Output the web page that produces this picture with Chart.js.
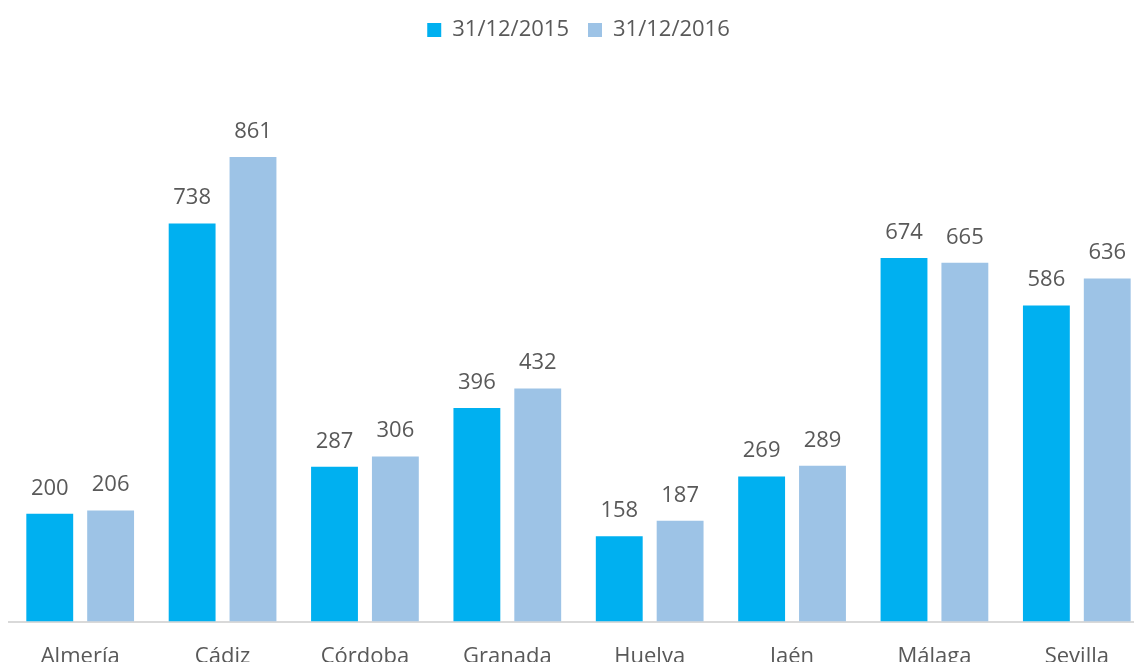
<!DOCTYPE html>
<html>
<head>
<meta charset="utf-8">
<script src="https://cdn.jsdelivr.net/npm/chart.js@4"></script>
<style>
  html, body { margin: 0; padding: 0; background: #fff; overflow: hidden; }
  #wrap { position: relative; width: 1148px; height: 684px; }
</style>
</head>
<body>
<div id="wrap"><canvas id="chart"></canvas></div>
<script>
var provincias = ["Almería", "Cádiz", "Córdoba", "Granada", "Huelva", "Jaén", "Málaga", "Sevilla"];
var serie2015 = [200, 738, 287, 396, 158, 269, 674, 586];
var serie2016 = [206, 861, 306, 432, 187, 289, 665, 636];
var etiquetas = ["31/12/2015", "31/12/2016"];
var colores = ["#00b0f0", "#9dc3e6"];
var fuente = "'Open Sans', sans-serif";

// etiquetas de valor encima de cada barra
var valoresPlugin = {
  id: "valores",
  afterDatasetsDraw: function (chart) {
    var ctx = chart.ctx;
    ctx.save();
    ctx.fillStyle = "#595959";
    ctx.font = "22px " + fuente;
    ctx.textAlign = "center";
    ctx.textBaseline = "alphabetic";
    chart.data.datasets.forEach(function (ds, i) {
      chart.getDatasetMeta(i).data.forEach(function (bar, j) {
        ctx.fillText(ds.data[j], bar.x, bar.y - 19);
      });
    });
    ctx.restore();
  }
};

// mas espacio entre la leyenda y las barras
var huecoLeyenda = {
  id: "huecoLeyenda",
  beforeInit: function (chart) {
    var fit = chart.legend.fit;
    chart.legend.fit = function () {
      fit.call(this);
      this.height += 31;
    };
  }
};

new Chart("chart", {
  type: "bar",
  data: {
    labels: provincias,
    datasets: [
      { label: etiquetas[0], data: serie2015, backgroundColor: colores[0] },
      { label: etiquetas[1], data: serie2016, backgroundColor: colores[1] }
    ]
  },
  options: {
    responsive: true,
    maintainAspectRatio: false,
    animation: false,
    layout: { padding: { left: 9, right: 0, top: 0, bottom: 0 } },
    categoryPercentage: 0.855,
    barPercentage: 0.77,
    plugins: {
      legend: {
        position: "top",
        labels: {
          boxWidth: 14,
          boxHeight: 14,
          color: "#595959",
          font: { size: 22, family: fuente },
          padding: 19
        }
      },
      tooltip: { enabled: false }
    },
    scales: {
      x: {
        grid: { display: false },
        border: { display: true, color: "#d9d9d9", width: 2 },
        ticks: { color: "#595959", font: { size: 22, family: fuente }, padding: 14 }
      },
      y: {
        display: false,
        min: 0,
        max: 1000
      }
    }
  },
  plugins: [valoresPlugin, huecoLeyenda]
});
</script>
</body>
</html>
